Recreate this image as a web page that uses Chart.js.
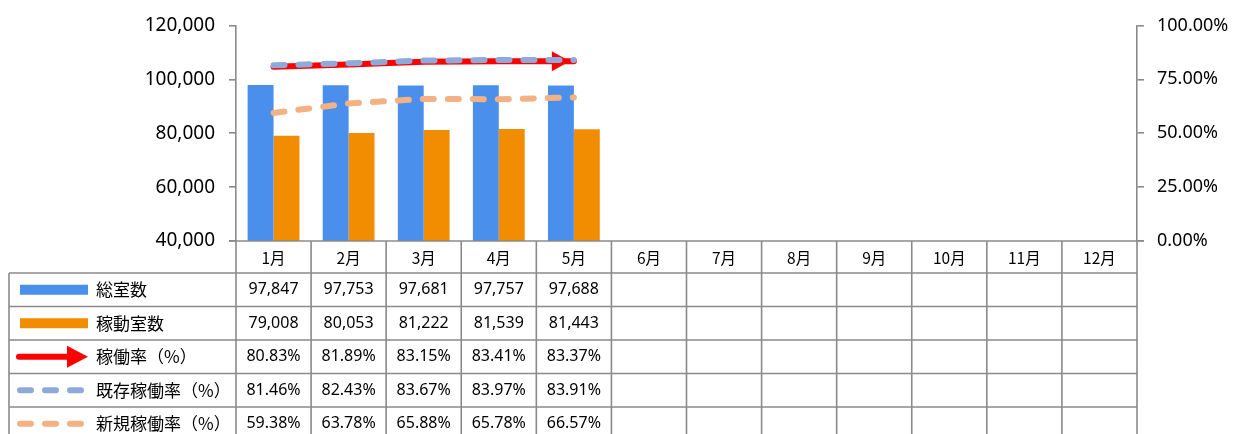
<!DOCTYPE html>
<html>
<head>
<meta charset="utf-8">
<script src="https://cdn.jsdelivr.net/npm/chart.js@4"></script>
<style>
  html, body { margin: 0; padding: 0; background: #fff; }
  #wrap { width: 1233px; height: 434px; }
</style>
</head>
<body>
<div id="wrap"><canvas id="myChart" width="1233" height="434"></canvas></div>
<script>
const months = ["1月", "2月", "3月", "4月", "5月", "6月", "7月", "8月", "9月", "10月", "11月", "12月"];
const totalRooms = [97847, 97753, 97681, 97757, 97688, null, null, null, null, null, null, null];
const usedRooms = [79008, 80053, 81222, 81539, 81443, null, null, null, null, null, null, null];
const occRate = [80.83, 81.89, 83.15, 83.41, 83.37, null, null, null, null, null, null, null];
const occRateExisting = [81.46, 82.43, 83.67, 83.97, 83.91, null, null, null, null, null, null, null];
const occRateNew = [59.38, 63.78, 65.88, 65.78, 66.57, null, null, null, null, null, null, null];
const seriesNames = ["総室数", "稼動室数", "稼働率（%）", "既存稼働率（%）", "新規稼働率（%）"];
const leftTicks = [40000, 60000, 80000, 100000, 120000];
const rightTicks = [0, 25, 50, 75, 100];

const BLUE = "#4a8fec";
const ORANGE = "#f28c00";
const RED = "#ff0000";
const DASH_BLUE = "#8eaadb";
const DASH_ORANGE = "#f4b183";
const GRID = "#8a8a8a";
const numFont = "'Noto Sans', sans-serif";
const jpFont = "'Noto Sans CJK JP', sans-serif";

// arrow head on the red line
const arrowPlugin = {
  id: "arrowHead",
  afterDatasetDraw(chart, args) {
    if (args.index !== 2) return;
    const pts = args.meta.data.filter(p => !p.skip && p.y != null && !isNaN(p.y));
    if (pts.length < 2) return;
    const a = pts[pts.length - 2], b = pts[pts.length - 1];
    const ang = Math.atan2(b.y - a.y, b.x - a.x);
    const c = chart.ctx;
    c.save();
    c.translate(b.x, b.y);
    c.rotate(ang);
    c.fillStyle = RED;
    c.beginPath();
    c.moveTo(-4, 0);
    c.lineTo(-22, -10);
    c.lineTo(-22, 10);
    c.closePath();
    c.fill();
    c.restore();
  }
};

// data table under the plot
const tablePlugin = {
  id: "dataTable",
  afterDraw(chart) {
    const c = chart.ctx;
    const xs = chart.scales.x;
    const n = months.length;
    const colW = (xs.right - xs.left) / n;
    const axisY = chart.chartArea.bottom;
    const rowTop = [axisY, 273, 306.5, 340, 373.5, 407];
    const rowH = 33.5;
    const leftX = 9;
    const rightX = xs.right;
    c.save();
    c.strokeStyle = GRID;
    c.lineWidth = 1.6;
    // x axis line
    c.beginPath();
    c.moveTo(xs.left - 7, axisY);
    c.lineTo(xs.right + 7, axisY);
    c.stroke();
    // horizontal rows
    for (let r = 1; r < rowTop.length; r++) {
      c.beginPath();
      c.moveTo(leftX, rowTop[r]);
      c.lineTo(rightX, rowTop[r]);
      c.stroke();
    }
    // vertical lines
    c.beginPath();
    c.moveTo(leftX, rowTop[1]);
    c.lineTo(leftX, chart.height);
    c.stroke();
    for (let i = 0; i <= n; i++) {
      const x = xs.left + i * colW;
      c.beginPath();
      c.moveTo(x, axisY);
      c.lineTo(x, chart.height);
      c.stroke();
    }
    // header
    c.fillStyle = "#000";
    c.textAlign = "center";
    c.textBaseline = "middle";
    c.font = "15.5px " + jpFont;
    months.forEach((m, i) => {
      c.fillText(m, xs.getPixelForValue(i), (rowTop[0] + rowTop[1]) / 2 + 1);
    });
    // values
    const rows = [
      totalRooms.map(v => v == null ? "" : v.toLocaleString("en-US")),
      usedRooms.map(v => v == null ? "" : v.toLocaleString("en-US")),
      occRate.map(v => v == null ? "" : v.toFixed(2) + "%"),
      occRateExisting.map(v => v == null ? "" : v.toFixed(2) + "%"),
      occRateNew.map(v => v == null ? "" : v.toFixed(2) + "%")
    ];
    c.font = "16px " + numFont;
    rows.forEach((row, r) => {
      const cy = rowTop[r + 1] + rowH / 2;
      row.forEach((txt, i) => {
        if (txt) c.fillText(txt, xs.getPixelForValue(i), cy);
      });
    });
    // legend keys and names
    c.textAlign = "left";
    c.font = "17px " + jpFont;
    seriesNames.forEach((name, r) => {
      const cy = rowTop[r + 1] + rowH / 2;
      c.fillStyle = "#000";
      c.fillText(name, 96, cy);
      if (r === 0 || r === 1) {
        c.fillStyle = r === 0 ? BLUE : ORANGE;
        c.fillRect(20, cy - 5, 68, 10);
      } else if (r === 2) {
        c.strokeStyle = RED;
        c.lineWidth = 6;
        c.lineCap = "round";
        c.beginPath();
        c.moveTo(19, cy);
        c.lineTo(70, cy);
        c.stroke();
        c.fillStyle = RED;
        c.beginPath();
        c.moveTo(88, cy);
        c.lineTo(67, cy - 11);
        c.lineTo(67, cy + 11);
        c.closePath();
        c.fill();
      } else {
        c.strokeStyle = r === 3 ? DASH_BLUE : DASH_ORANGE;
        c.lineWidth = 6;
        c.lineCap = "round";
        c.setLineDash([11, 14]);
        c.beginPath();
        c.moveTo(20, cy);
        c.lineTo(84, cy);
        c.stroke();
        c.setLineDash([]);
      }
    });
    c.restore();
  }
};

const ctx = document.getElementById("myChart");
new Chart(ctx, {
  data: {
    labels: months,
    datasets: [
      {
        type: "bar",
        label: seriesNames[0],
        data: totalRooms,
        backgroundColor: BLUE,
        yAxisID: "y",
        order: 10
      },
      {
        type: "bar",
        label: seriesNames[1],
        data: usedRooms,
        backgroundColor: ORANGE,
        yAxisID: "y",
        order: 10
      },
      {
        type: "line",
        label: seriesNames[2],
        data: occRate,
        borderColor: RED,
        borderWidth: 6,
        borderCapStyle: "round",
        pointRadius: 0,
        yAxisID: "y1",
        order: 3
      },
      {
        type: "line",
        label: seriesNames[3],
        data: occRateExisting,
        borderColor: DASH_BLUE,
        borderWidth: 6,
        borderCapStyle: "round",
        borderDash: [11, 14],
        pointRadius: 0,
        yAxisID: "y1",
        order: 1
      },
      {
        type: "line",
        label: seriesNames[4],
        data: occRateNew,
        borderColor: DASH_ORANGE,
        borderWidth: 6,
        borderCapStyle: "round",
        borderDash: [11, 14],
        pointRadius: 0,
        yAxisID: "y1",
        order: 2
      }
    ]
  },
  options: {
    responsive: false,
    animation: false,
    layout: { padding: { top: 22, bottom: 193, left: 0, right: 0 } },
    plugins: {
      legend: { display: false },
      tooltip: { enabled: false },
      title: { display: false }
    },
    datasets: {
      bar: { barPercentage: 1, categoryPercentage: 0.69 }
    },
    scales: {
      x: {
        display: false,
        offset: true
      },
      y: {
        position: "left",
        min: 40000,
        max: 120000,
        afterBuildTicks: s => { s.ticks = leftTicks.map(v => ({ value: v })); },
        afterFit: s => { s.width = 236; },
        grid: { drawOnChartArea: false, drawTicks: true, tickLength: 7, color: GRID, lineWidth: 1.6 },
        border: { display: true, color: GRID, width: 1.6 },
        ticks: {
          padding: 14,
          color: "#000",
          font: { family: numFont, size: 19 },
          callback: v => Number(v).toLocaleString("en-US")
        }
      },
      y1: {
        position: "right",
        min: 0,
        max: 100,
        afterBuildTicks: s => { s.ticks = rightTicks.map(v => ({ value: v })); },
        afterFit: s => { s.width = 96; },
        grid: { drawOnChartArea: false, drawTicks: true, tickLength: 7, color: GRID, lineWidth: 1.6 },
        border: { display: true, color: GRID, width: 1.6 },
        ticks: {
          padding: 13,
          color: "#000",
          font: { family: numFont, size: 18 },
          callback: v => Number(v).toFixed(2) + "%"
        }
      }
    }
  },
  plugins: [arrowPlugin, tablePlugin]
});
</script>
</body>
</html>
